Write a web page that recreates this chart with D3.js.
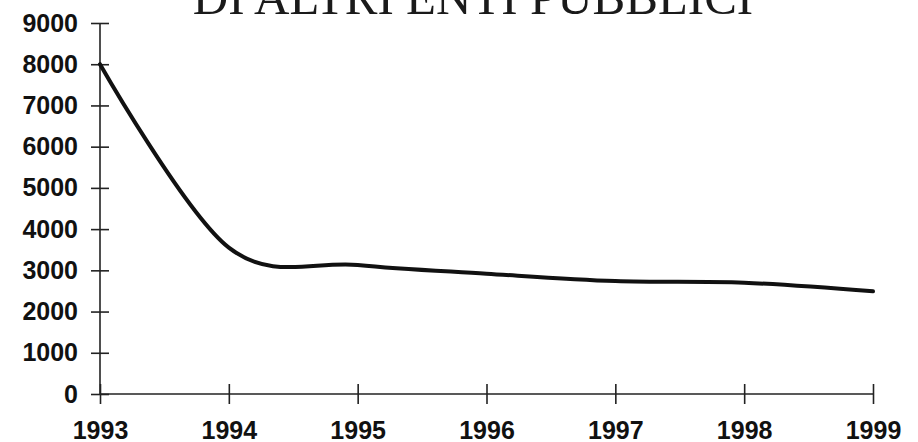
<!DOCTYPE html>
<html>
<head>
<meta charset="utf-8">
<script src="https://cdn.jsdelivr.net/npm/d3@7"></script>
<style>
  body { margin: 0; background: #fff; }
</style>
</head>
<body>
<div id="chart-container"></div>
<script>
// Data
const years = [1993, 1994, 1995, 1996, 1997, 1998, 1999];
const values = [8000, 3550, 3130, 2920, 2740, 2700, 2490];
const yTicks = [0, 1000, 2000, 3000, 4000, 5000, 6000, 7000, 8000, 9000];
const titleText = "DI ALTRI ENTI PUBBLICI";

const width = 918;
const height = 442;
const marginTop = 23;
const marginLeft = 100;
const plotRight = 873;
const plotBottom = 394;

const x = d3.scaleLinear()
  .domain([1993, 1999])
  .range([marginLeft, plotRight]);

const y = d3.scaleLinear()
  .domain([0, 9000])
  .range([plotBottom, marginTop]);

const svg = d3.create("svg")
  .attr("width", width)
  .attr("height", height)
  .attr("viewBox", [0, 0, width, height]);

svg.append("rect")
  .attr("width", width)
  .attr("height", height)
  .attr("fill", "#fff");

// Title, cut off at the top like the scan
svg.append("text")
  .attr("x", 473)
  .attr("y", 14)
  .attr("text-anchor", "middle")
  .attr("font-family", "'Liberation Serif', 'Times New Roman', serif")
  .attr("font-size", 49)
  .attr("fill", "#1a1a1a")
  .text(titleText);

const labelFont = "'Liberation Sans', Arial, sans-serif";

// Y axis, ticks cross the line
svg.append("g")
  .attr("transform", `translate(${marginLeft},0)`)
  .call(d3.axisLeft(y).tickValues(yTicks).tickSize(9).tickPadding(13).tickFormat(d3.format("d")))
  .call(g => g.selectAll(".tick line").attr("x1", 9).attr("x2", -9))
  .call(g => g.selectAll("line, path").attr("stroke", "#222").attr("stroke-width", 1.6))
  .call(g => g.select(".domain").attr("d", `M0,${marginTop}V${plotBottom}`))
  .call(g => g.selectAll("text")
    .attr("font-family", labelFont)
    .attr("font-weight", "bold")
    .attr("font-size", 25)
    .attr("fill", "#111"));

// X axis
svg.append("g")
  .attr("transform", `translate(0,${plotBottom})`)
  .call(d3.axisBottom(x).tickValues(years).tickSize(10).tickPadding(17).tickFormat(d3.format("d")))
  .call(g => g.selectAll(".tick line").attr("y1", -10).attr("y2", 10))
  .call(g => g.selectAll("line, path").attr("stroke", "#222").attr("stroke-width", 1.6))
  .call(g => g.select(".domain").attr("d", `M${marginLeft},0H${plotRight}`))
  .call(g => g.selectAll("text")
    .attr("font-family", labelFont)
    .attr("font-weight", "bold")
    .attr("font-size", 25)
    .attr("fill", "#111"));

// Smoothed line
const line = d3.line()
  .curve(d3.curveCatmullRom.alpha(0))
  .x((d, i) => x(years[i]))
  .y(d => y(d));

svg.append("path")
  .datum(values)
  .attr("fill", "none")
  .attr("stroke", "#111")
  .attr("stroke-width", 4)
  .attr("stroke-linejoin", "round")
  .attr("stroke-linecap", "round")
  .attr("d", line);

document.getElementById("chart-container").appendChild(svg.node());
</script>
</body>
</html>
